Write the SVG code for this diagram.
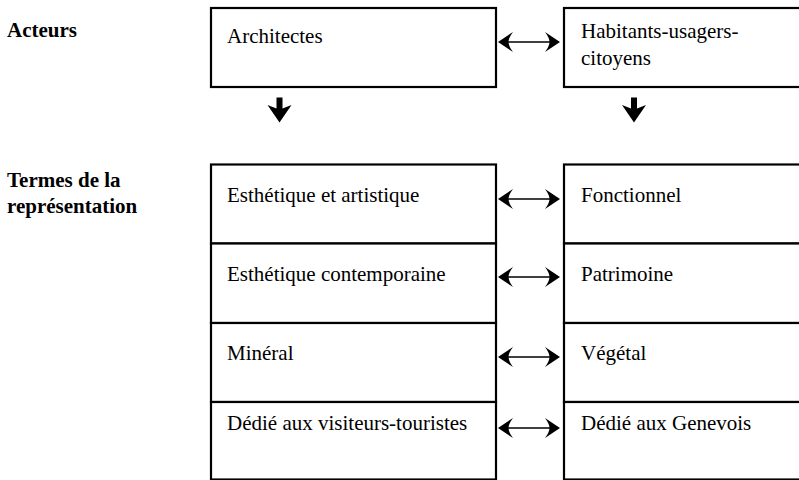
<svg xmlns="http://www.w3.org/2000/svg" width="799" height="480" viewBox="0 0 799 480">
<style>
.box{fill:#fff;stroke:#000;stroke-width:2.2}
.t{font-family:"Liberation Serif","Times New Roman",serif;font-size:21px;fill:#000}
.h{font-family:"Liberation Serif","Times New Roman",serif;font-size:21px;font-weight:bold;fill:#000}
.ln{stroke:#000;stroke-width:1.6;fill:none}
.hd{fill:#000;stroke:none}
</style>
<defs>
<g id="dbl">
<line class="ln" x1="504" y1="0" x2="555" y2="0"/>
<path class="hd" d="M498,0 L513,-10 Q508.5,-4 508.5,0 Q508.5,4 513,10 Z"/>
<path class="hd" d="M560,0 L545,-10 Q549.5,-4 549.5,0 Q549.5,4 545,10 Z"/>
</g>
<path id="down" class="hd" d="M-3,0 L3,0 L3,11 L12,7.5 L0,25 L-12,7.5 L-3,11 Z"/>
</defs>
<text class="h" x="7" y="37">Acteurs</text>
<text class="h" x="7" y="187">Termes de la</text>
<text class="h" x="7" y="213">représentation</text>
<g id="architectes">
<rect class="box" x="211" y="8" width="285" height="79"/>
<text class="t" x="227" y="43">Architectes</text>
</g>
<g id="habitants">
<rect class="box" x="564" y="8" width="250" height="79"/>
<text class="t" x="581" y="38">Habitants-usagers-</text>
<text class="t" x="581" y="65">citoyens</text>
</g>
<g id="esthetique-artistique">
<rect class="box" x="211" y="164.5" width="285" height="79"/>
<text class="t" x="227" y="202">Esthétique et artistique</text>
</g>
<g id="esthetique-contemporaine">
<rect class="box" x="211" y="243.5" width="285" height="79.5"/>
<text class="t" x="227" y="281">Esthétique contemporaine</text>
</g>
<g id="mineral">
<rect class="box" x="211" y="323" width="285" height="79"/>
<text class="t" x="227" y="360">Minéral</text>
</g>
<g id="dedie-visiteurs">
<rect class="box" x="211" y="402" width="285" height="77.5"/>
<text class="t" x="227" y="430">Dédié aux visiteurs-touristes</text>
</g>
<g id="fonctionnel">
<rect class="box" x="564" y="164.5" width="250" height="79"/>
<text class="t" x="581" y="202">Fonctionnel</text>
</g>
<g id="patrimoine">
<rect class="box" x="564" y="243.5" width="250" height="79.5"/>
<text class="t" x="581" y="281">Patrimoine</text>
</g>
<g id="vegetal">
<rect class="box" x="564" y="323" width="250" height="79"/>
<text class="t" x="581" y="360">Végétal</text>
</g>
<g id="dedie-genevois">
<rect class="box" x="564" y="402" width="250" height="77.5"/>
<text class="t" x="581" y="430">Dédié aux Genevois</text>
</g>
<g id="connectors">
<use href="#dbl" transform="translate(0,42)"/>
<use href="#dbl" transform="translate(0,199)"/>
<use href="#dbl" transform="translate(0,277)"/>
<use href="#dbl" transform="translate(0,357)"/>
<use href="#dbl" transform="translate(0,428)"/>
<use href="#down" transform="translate(279.5,97.5)"/>
<use href="#down" transform="translate(634,97.5)"/>
</g>
</svg>
